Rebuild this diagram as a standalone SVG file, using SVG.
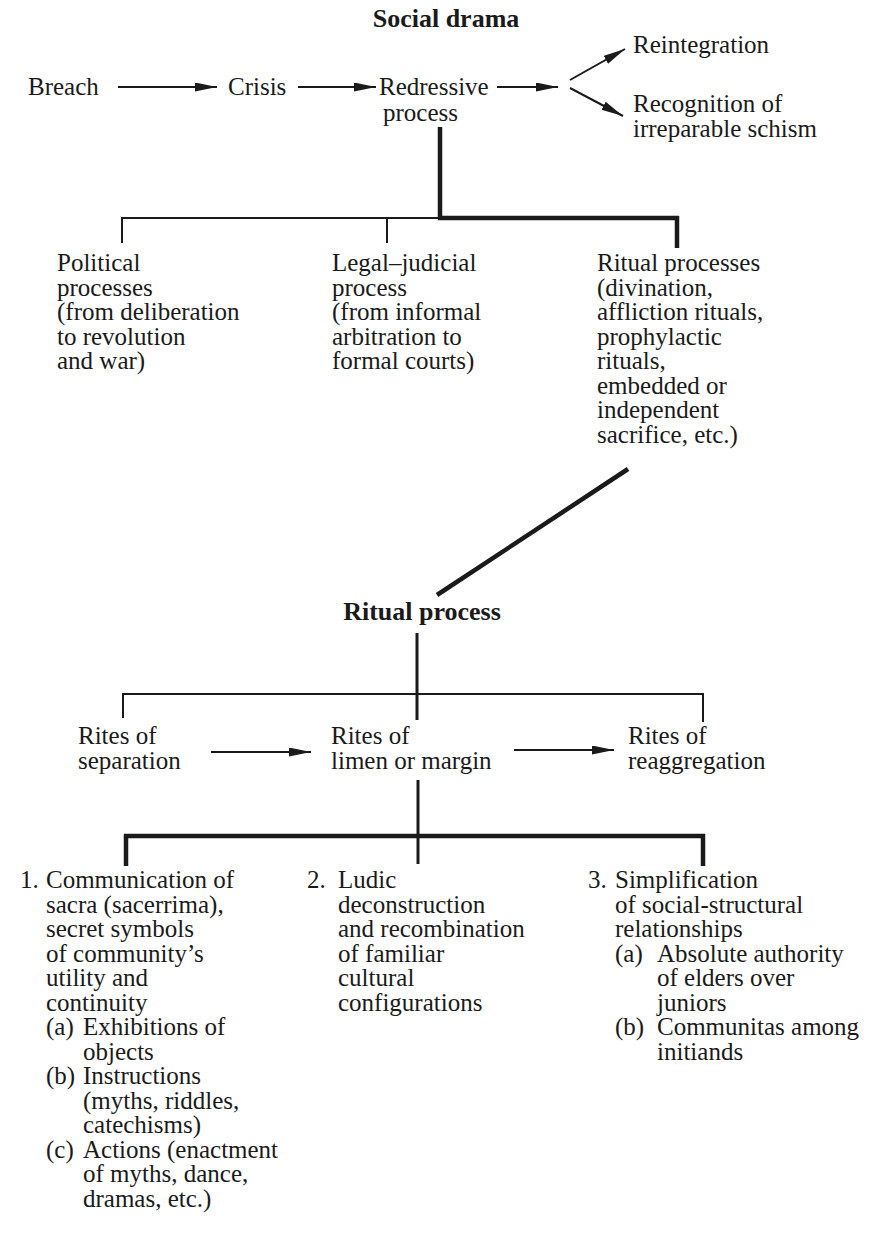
<svg xmlns="http://www.w3.org/2000/svg" width="871" height="1243" viewBox="0 0 871 1243">
  <style>
    text { font-family: "Liberation Serif", "Times New Roman", serif; font-size: 25px; fill: #1a1a1a; }
    .title { font-weight: bold; font-size: 26px; }
    .ln { stroke: #1a1a1a; fill: none; stroke-linecap: butt; }
    .thin { stroke-width: 2; }
    .mid { stroke-width: 3; }
    .thick { stroke-width: 4.5; }
    .arrow { stroke: #1a1a1a; stroke-width: 2; fill: none; marker-end: url(#head); }
  </style>
  <defs>
    <marker id="head" markerUnits="userSpaceOnUse" markerWidth="24" markerHeight="10" refX="22" refY="4.5" orient="auto">
      <path d="M0,0 L22,4.5 L0,9 Z" fill="#1a1a1a"/>
    </marker>
  </defs>
  <rect width="871" height="1243" fill="#ffffff"/>

  <!-- connectors -->
  <g id="connectors">
    <!-- social drama sequence -->
    <line class="arrow" x1="118" y1="87" x2="217" y2="87"/>
    <line class="arrow" x1="298" y1="87" x2="376" y2="87"/>
    <line class="arrow" x1="497" y1="87" x2="558" y2="87"/>
    <line class="arrow" x1="570" y1="80" x2="625" y2="49"/>
    <line class="arrow" x1="570" y1="88" x2="623" y2="116"/>
    <!-- redressive process branches -->
    <line class="ln thick" x1="440" y1="127" x2="440" y2="218"/>
    <line class="ln thin" x1="121" y1="218" x2="440" y2="218"/>
    <line class="ln thick" x1="438" y1="218" x2="679" y2="218"/>
    <line class="ln thin" x1="122" y1="217" x2="122" y2="243"/>
    <line class="ln thin" x1="387" y1="217" x2="387" y2="243"/>
    <line class="ln thick" x1="677" y1="216" x2="677" y2="248"/>
    <!-- ritual processes to ritual process -->
    <line class="ln thick" x1="628" y1="469" x2="437" y2="595"/>
    <!-- ritual process branches -->
    <line class="ln mid" x1="417" y1="633" x2="417" y2="720"/>
    <line class="ln thin" x1="123" y1="694" x2="703" y2="694"/>
    <line class="ln thin" x1="123" y1="693" x2="123" y2="718"/>
    <line class="ln thin" x1="703" y1="693" x2="703" y2="722"/>
    <line class="arrow" x1="211" y1="752" x2="311" y2="752"/>
    <line class="arrow" x1="514" y1="750" x2="614" y2="750"/>
    <!-- liminal phase branches -->
    <line class="ln mid" x1="418" y1="780" x2="418" y2="864"/>
    <line class="ln thick" x1="124" y1="836" x2="705" y2="836"/>
    <line class="ln thick" x1="126" y1="834" x2="126" y2="866"/>
    <line class="ln thick" x1="703" y1="834" x2="703" y2="866"/>
  </g>

  <g id="social-drama"><text class="title" x="446" y="27" text-anchor="middle">Social drama</text></g>
  <g id="breach"><text x="28" y="95">Breach</text></g>
  <g id="crisis"><text x="228" y="95">Crisis</text></g>
  <g id="redressive"><text x="379" y="95">Redressive</text><text x="383" y="121">process</text></g>
  <g id="reintegration"><text x="633" y="53">Reintegration</text></g>
  <g id="schism"><text x="633" y="112">Recognition of</text><text x="633" y="137">irreparable schism</text></g>

  <g id="political">
    <text x="57" y="271">Political</text>
    <text x="57" y="295.5">processes</text>
    <text x="57" y="320">(from deliberation</text>
    <text x="57" y="344.5">to revolution</text>
    <text x="57" y="369">and war)</text>
  </g>
  <g id="legal">
    <text x="332" y="271">Legal–judicial</text>
    <text x="332" y="295.5">process</text>
    <text x="332" y="320">(from informal</text>
    <text x="332" y="344.5">arbitration to</text>
    <text x="332" y="369">formal courts)</text>
  </g>
  <g id="ritual-processes">
    <text x="597" y="271">Ritual processes</text>
    <text x="597" y="295.5">(divination,</text>
    <text x="597" y="320">affliction rituals,</text>
    <text x="597" y="344.5">prophylactic</text>
    <text x="597" y="369">rituals,</text>
    <text x="597" y="393.5">embedded or</text>
    <text x="597" y="418">independent</text>
    <text x="597" y="442.5">sacrifice, etc.)</text>
  </g>

  <g id="ritual-process"><text class="title" x="422" y="620" text-anchor="middle">Ritual process</text></g>
  <g id="separation"><text x="78" y="744">Rites of</text><text x="78" y="769">separation</text></g>
  <g id="margin"><text x="331" y="744">Rites of</text><text x="331" y="769">limen or margin</text></g>
  <g id="reaggregation"><text x="628" y="744">Rites of</text><text x="628" y="769">reaggregation</text></g>

  <g id="sacra">
    <text x="20" y="888">1.</text><text x="46" y="888">Communication of</text>
    <text x="46" y="912.5">sacra (sacerrima),</text>
    <text x="46" y="937">secret symbols</text>
    <text x="46" y="961.5">of community’s</text>
    <text x="46" y="986">utility and</text>
    <text x="46" y="1010.5">continuity</text>
    <text x="46" y="1035">(a)</text><text x="83" y="1035">Exhibitions of</text>
    <text x="83" y="1059.5">objects</text>
    <text x="46" y="1084">(b)</text><text x="83" y="1084">Instructions</text>
    <text x="83" y="1108.5">(myths, riddles,</text>
    <text x="83" y="1133">catechisms)</text>
    <text x="46" y="1157.5">(c)</text><text x="83" y="1157.5">Actions (enactment</text>
    <text x="83" y="1182">of myths, dance,</text>
    <text x="83" y="1206.5">dramas, etc.)</text>
  </g>
  <g id="ludic">
    <text x="307" y="888">2.</text><text x="338" y="888">Ludic</text>
    <text x="338" y="912.5">deconstruction</text>
    <text x="338" y="937">and recombination</text>
    <text x="338" y="961.5">of familiar</text>
    <text x="338" y="986">cultural</text>
    <text x="338" y="1010.5">configurations</text>
  </g>
  <g id="simplification">
    <text x="588" y="888">3.</text><text x="615" y="888">Simplification</text>
    <text x="615" y="912.5">of social-structural</text>
    <text x="615" y="937">relationships</text>
    <text x="615" y="961.5">(a)</text><text x="657" y="961.5">Absolute authority</text>
    <text x="657" y="986">of elders over</text>
    <text x="657" y="1010.5">juniors</text>
    <text x="615" y="1035">(b)</text><text x="657" y="1035">Communitas among</text>
    <text x="657" y="1059.5">initiands</text>
  </g>
</svg>
